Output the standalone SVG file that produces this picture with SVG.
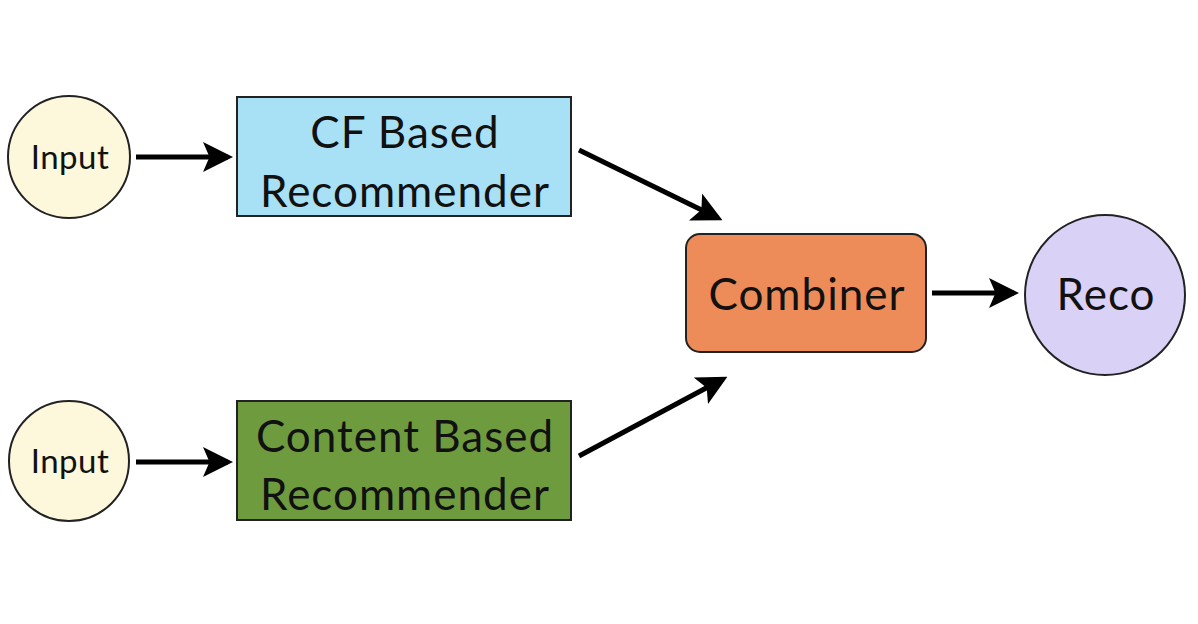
<svg xmlns="http://www.w3.org/2000/svg" width="1198" height="624" viewBox="0 0 1198 624">
<style>
text{font-family:Lato,"Open Sans","Liberation Sans",sans-serif;fill:#111;text-anchor:middle}
.node{stroke:#222;stroke-width:2}
.small{font-size:33px;letter-spacing:0.5px}
.big{font-size:44px;letter-spacing:1px}
.conn{stroke:#000;stroke-width:5;fill:none;marker-end:url(#ah)}
</style>
<defs>
<marker id="ah" markerWidth="6" markerHeight="6" refX="5" refY="3" orient="auto" markerUnits="strokeWidth">
<path d="M0,0 L6,3 L0,6 L1.3,3 Z" fill="#000"/>
</marker>
</defs>
<rect width="1198" height="624" fill="#fff"/>
<g id="connectors">
<line class="conn" x1="136" y1="157" x2="228" y2="157"/>
<line class="conn" x1="136" y1="462" x2="228" y2="462"/>
<line class="conn" x1="579" y1="150" x2="718" y2="218"/>
<line class="conn" x1="579" y1="456" x2="723" y2="379"/>
<line class="conn" x1="932" y1="293" x2="1014" y2="293"/>
</g>
<g id="input1">
<circle class="node" cx="69" cy="157" r="61" fill="#fdf7dc"/>
<text class="small" x="70" y="169">Input</text>
</g>
<g id="input2">
<circle class="node" cx="69" cy="461" r="60" fill="#fdf7dc"/>
<text class="small" x="70" y="473">Input</text>
</g>
<g id="cf">
<rect class="node" x="237" y="97" width="334" height="119" fill="#a8e0f6"/>
<text class="big" x="405" y="148">CF Based</text>
<text class="big" x="405" y="207">Recommender</text>
</g>
<g id="content">
<rect class="node" x="237" y="401" width="334" height="119" fill="#6f9b3f"/>
<text class="big" x="405" y="452">Content Based</text>
<text class="big" x="405" y="510">Recommender</text>
</g>
<g id="combiner">
<rect class="node" x="686" y="234" width="240" height="118" rx="14" fill="#ed8c58"/>
<text class="big" x="807" y="310">Combiner</text>
</g>
<g id="reco">
<circle class="node" cx="1105" cy="295" r="80" fill="#dad2f6"/>
<text class="big" x="1106" y="310">Reco</text>
</g>
</svg>
